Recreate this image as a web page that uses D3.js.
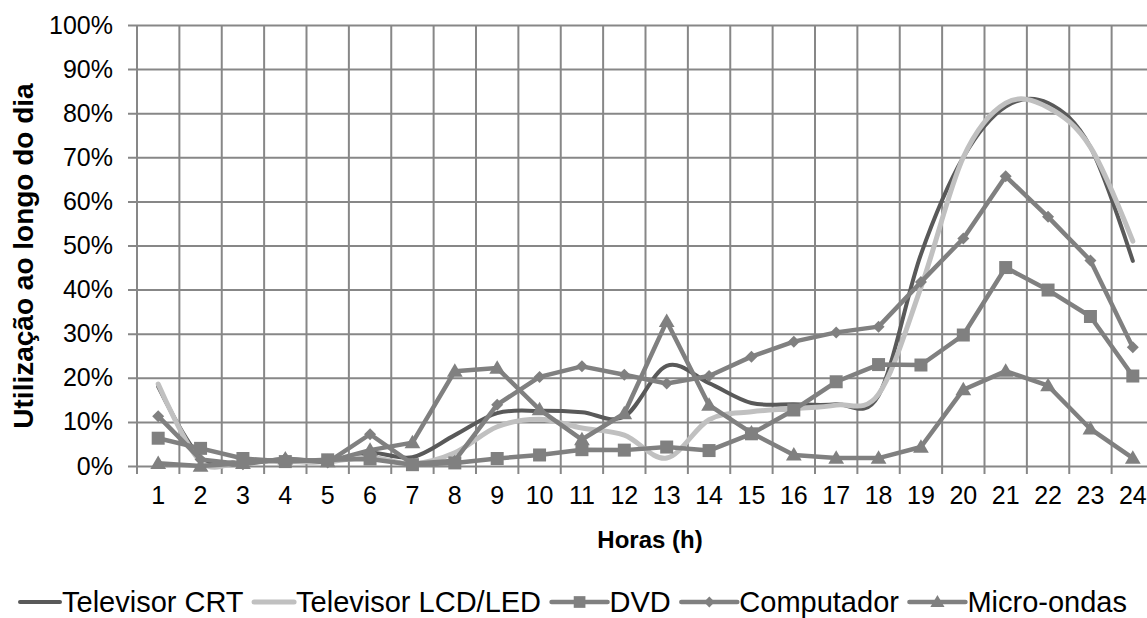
<!DOCTYPE html>
<html>
<head>
<meta charset="utf-8">
<script src="https://cdn.jsdelivr.net/npm/d3@7"></script>
<style>
  html, body { margin: 0; padding: 0; background: #fff; }
  svg { display: block; font-family: "Liberation Sans", Arial, sans-serif; }
</style>
</head>
<body>
<svg id="chart" width="1147" height="618"></svg>
<script>
// Hours of the day
const hours = [1,2,3,4,5,6,7,8,9,10,11,12,13,14,15,16,17,18,19,20,21,22,23,24];

// Share of use per hour (%)
const tvCRT = [18, 2, 1, 1, 1, 3, 2, 7, 12, 12.5, 12.2, 11.2, 22.7, 18.8, 14.3, 14, 14, 16, 48, 70, 81.5, 82.3, 72.3, 46.5];
const tvLCD = [18.6, 1, 1, 1, 1, 2, 0.5, 3, 8.9, 10.6, 8.6, 7, 1.8, 10.5, 12.3, 13, 13.8, 16.3, 40.5, 70, 82.3, 81.3, 72.3, 51];
const dvd = [6.3, 4, 1.7, 1, 1.4, 1.6, 0.3, 0.7, 1.7, 2.5, 3.7, 3.6, 4.3, 3.5, 7.3, 12.7, 19.1, 23, 22.9, 29.7, 45, 39.9, 33.9, 20.4];
const computador = [11.3, 1.5, 0.4, 1.7, 0.8, 7.2, 0.5, 1.2, 13.9, 20.2, 22.6, 20.7, 18.7, 20.4, 24.8, 28.2, 30.3, 31.6, 41.7, 51.6, 65.7, 56.5, 46.6, 26.9];
const microOndas = [0.6, 0, 0.6, 1.6, 1, 3.6, 5.3, 21.5, 22.2, 12.8, 6, 11.9, 32.8, 13.8, 7.5, 2.5, 1.8, 1.8, 4.3, 17.3, 21.5, 18.2, 8.4, 1.8];

// Axis ticks
const yTicks = [0,10,20,30,40,50,60,70,80,90,100];

const seriesNames = ["Televisor CRT", "Televisor LCD/LED", "DVD", "Computador", "Micro-ondas"];

const series = [
  { name: seriesNames[0], values: tvCRT, color: "#595959", width: 4, smooth: true, marker: null },
  { name: seriesNames[1], values: tvLCD, color: "#c0c0c0", width: 5, smooth: true, marker: null },
  { name: seriesNames[2], values: dvd, color: "#808080", width: 4.5, smooth: false, marker: "square" },
  { name: seriesNames[3], values: computador, color: "#808080", width: 4.5, smooth: false, marker: "diamond" },
  { name: seriesNames[4], values: microOndas, color: "#808080", width: 4.5, smooth: false, marker: "triangle" }
];

const svg = d3.select("#chart");
const plot = { left: 137, right: 1154, top: 25, bottom: 466 };

const x = d3.scaleBand().domain(hours).range([plot.left, plot.right]).padding(0);
const y = d3.scaleLinear().domain([0, 100]).range([plot.bottom, plot.top]);
const cx = h => x(h) + x.bandwidth() / 2;

const gridColor = "#878787";
const font = "'Liberation Sans', Arial, sans-serif";

// Horizontal gridlines with left tick marks
const yAxis = d3.axisLeft(y).tickValues(yTicks).tickFormat(d => d + "%")
  .tickSize(-(plot.right - plot.left)).tickSizeOuter(0).tickPadding(24);
const gy = svg.append("g").attr("transform", `translate(${plot.left},0)`).call(yAxis);
gy.select(".domain").remove();
gy.selectAll(".tick line").attr("stroke", gridColor).attr("stroke-width", 2)
  .attr("x1", -9);
gy.selectAll(".tick text").attr("font-size", 25).attr("fill", "#000").attr("font-family", font);

// Vertical gridlines at band boundaries, extending below the baseline as tick marks
const boundaries = hours.map(h => x(h));
svg.append("g").selectAll("line").data(boundaries).join("line")
  .attr("x1", d => d).attr("x2", d => d)
  .attr("y1", plot.top).attr("y2", plot.bottom + 8)
  .attr("stroke", gridColor).attr("stroke-width", 2);

// Hour labels
const xAxis = d3.axisBottom(x).tickSize(0).tickPadding(20);
const gx = svg.append("g").attr("transform", `translate(0,${plot.bottom})`).call(xAxis);
gx.select(".domain").remove();
gx.selectAll(".tick text").attr("font-size", 25).attr("fill", "#000").attr("font-family", font);

// Axis titles
svg.append("text").attr("x", 650).attr("y", 548)
  .attr("text-anchor", "middle").attr("font-size", 24).attr("font-weight", "bold")
  .text("Horas (h)");
svg.append("text")
  .attr("transform", `translate(33,256) rotate(-90)`)
  .attr("text-anchor", "middle").attr("font-size", 28).attr("font-weight", "bold")
  .text("Utilização ao longo do dia");

// Marker shapes
function markerPath(type, size) {
  if (type === "square") return d3.symbol(d3.symbolSquare, size * size)();
  if (type === "diamond") {
    const s = size / 2;
    return `M0,${-s}L${s},0L0,${s}L${-s},0Z`;
  }
  if (type === "triangle") {
    const s = size / 2;
    return `M0,${-s * 1.05}L${s * 1.05},${s * 0.75}L${-s * 1.05},${s * 0.75}Z`;
  }
  return null;
}
const markerSize = { square: 13, diamond: 12, triangle: 15 };

// Series lines and markers
series.forEach(s => {
  const pts = hours.map((h, i) => [cx(h), y(s.values[i])]);
  const line = d3.line().curve(s.smooth ? d3.curveCatmullRom.alpha(0) : d3.curveLinear);
  svg.append("path").attr("d", line(pts)).attr("fill", "none")
    .attr("stroke", s.color).attr("stroke-width", s.width)
    .attr("stroke-linejoin", "round").attr("stroke-linecap", "round");
  if (s.marker) {
    svg.append("g").selectAll("path").data(pts).join("path")
      .attr("transform", d => `translate(${d[0]},${d[1]})`)
      .attr("d", markerPath(s.marker, markerSize[s.marker]))
      .attr("fill", s.color);
  }
});

// Legend spread across the bottom
const legend = svg.append("g");
const ly = 602, legendLeft = 20, legendRight = 1127;
const items = series.map(s => {
  const g = legend.append("g");
  const lineLen = s.marker ? 56 : 40;
  g.append("line").attr("x1", 0).attr("x2", lineLen).attr("y1", ly).attr("y2", ly)
    .attr("stroke", s.color).attr("stroke-width", s.width).attr("stroke-linecap", "round");
  if (s.marker) {
    g.append("path").attr("transform", `translate(${lineLen / 2},${ly})`)
      .attr("d", markerPath(s.marker, markerSize[s.marker] * 0.9)).attr("fill", s.color);
  }
  const t = g.append("text").attr("x", lineLen + 2).attr("y", ly + 10)
    .attr("font-size", 29).attr("fill", "#000").text(s.name);
  return { g, w: lineLen + 2 + t.node().getComputedTextLength() };
});
const totalW = d3.sum(items, d => d.w);
const gap = (legendRight - legendLeft - totalW) / (items.length - 1);
let lx = legendLeft;
items.forEach(it => { it.g.attr("transform", `translate(${lx},0)`); lx += it.w + gap; });
</script>
</body>
</html>
